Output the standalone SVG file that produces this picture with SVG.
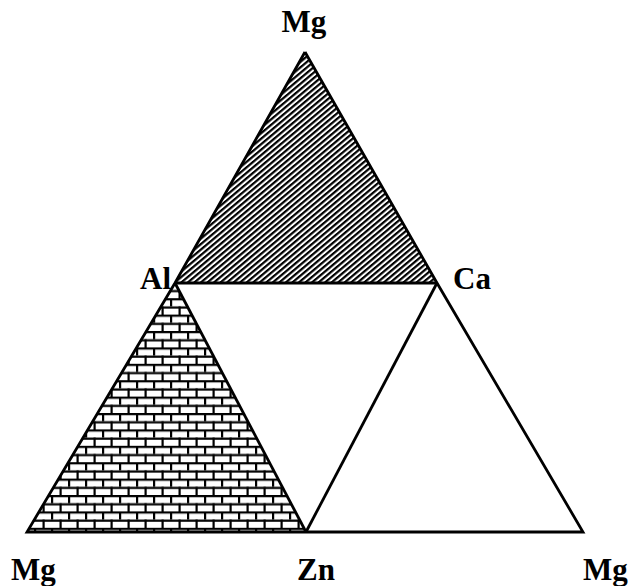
<svg xmlns="http://www.w3.org/2000/svg" width="631" height="586" viewBox="0 0 631 586">
<style>
.lbl{font-family:"Liberation Serif","Times New Roman",serif;font-weight:bold;font-size:31px;fill:#000}
.edge{fill:none;stroke:#000;stroke-width:2.8;stroke-linejoin:miter}
</style>
<defs>
<pattern id="hatch" patternUnits="userSpaceOnUse" width="8" height="4.2" patternTransform="rotate(-40)">
<rect width="8" height="4.2" fill="#fff"/>
<rect y="0" width="8" height="2.2" fill="#000"/>
</pattern>
<pattern id="brick" patternUnits="userSpaceOnUse" width="17" height="16.4" x="0" y="3">
<rect width="17" height="16.4" fill="#fff"/>
<rect x="0" y="0" width="17" height="2.2" fill="#000"/>
<rect x="0" y="8.2" width="17" height="2.2" fill="#000"/>
<rect x="0" y="0" width="2.2" height="8.2" fill="#000"/>
<rect x="8.5" y="8.2" width="2.2" height="8.2" fill="#000"/>
</pattern>
</defs>
<g id="region-top">
<polygon points="305,52 175,283 437,283" fill="url(#hatch)"/>
</g>
<g id="region-left">
<polygon points="175,283 27,532 306,532" fill="url(#brick)"/>
</g>
<g id="connectors">
<polyline class="edge" points="305,52 175,283 27,532 583,532 437,283 305,52"/>
<line class="edge" x1="175" y1="283" x2="437" y2="283"/>
<line class="edge" x1="175" y1="283" x2="306" y2="532"/>
<line class="edge" x1="437" y1="283" x2="306" y2="532"/>
</g>
<g id="label-mg-top"><text class="lbl" x="304" y="32" text-anchor="middle">Mg</text></g>
<g id="label-al"><text class="lbl" x="171" y="289" text-anchor="end">Al</text></g>
<g id="label-ca"><text class="lbl" x="453" y="289">Ca</text></g>
<g id="label-mg-left"><text class="lbl" x="11" y="580">Mg</text></g>
<g id="label-zn"><text class="lbl" x="297" y="580">Zn</text></g>
<g id="label-mg-right"><text class="lbl" x="583" y="580">Mg</text></g>
</svg>
